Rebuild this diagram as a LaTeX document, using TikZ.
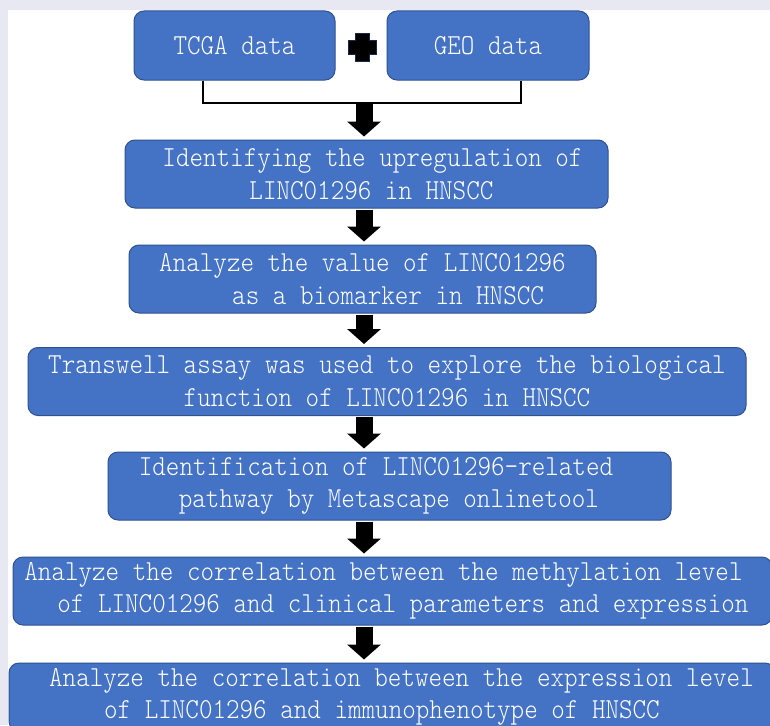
\documentclass[tikz,border=0pt]{standalone}
\usepackage{fontspec}
\newfontfamily\boxfont[Extension=.otf,FakeStretch=0.89]{lmmonolt10-regular}
\usetikzlibrary{arrows.meta}
\newcommand\gapx[1]{\makebox[#1pt]{}}
\definecolor{boxblue}{HTML}{4472C4}
\definecolor{boxedge}{HTML}{2F528F}
\definecolor{lav}{HTML}{E8E8F2}
\begin{document}
\begin{tikzpicture}[x=1pt,y=-1pt,
  stepbox/.style={draw=boxedge, line width=1pt, fill=boxblue, rounded corners=10pt,
    text=white, font=\boxfont\fontsize{29}{32.5}\selectfont, inner sep=0pt, align=left},
  blk/.style={line width=17pt, -{Triangle[width=33pt,length=15pt]}, black,
    shorten <=1pt, shorten >=3pt},
  brk/.style={line width=2pt, black}]
\useasboundingbox (0,0) rectangle (770,725);
\clip (0,0) rectangle (770,725);
\fill[lav] (0,0) rectangle (770,725);
\fill[white] (8,10.5) rectangle (770,725);

\node[stepbox, minimum width=201pt, minimum height=69pt] (tcga) at (234.5,45.5) {TCGA data};
\node[stepbox, minimum width=202pt, minimum height=69pt] (geo) at (488,45.5) {GEO data};
\filldraw[fill=black, draw=boxedge!50!black, line width=0.8pt]
  (355,33.5) -- (369,33.5) -- (369,40.5) -- (376,40.5) -- (376,54.5) -- (369,54.5)
  -- (369,61.5) -- (355,61.5) -- (355,54.5) -- (348,54.5) -- (348,40.5) -- (355,40.5) -- cycle;

\node[stepbox, minimum width=483pt, minimum height=68pt] (b1) at (366.5,174)
  {\gapx{12}Identifying the upregulation of\\\gapx{99}LINC01296 in HNSCC};
\node[stepbox, minimum width=467pt, minimum height=68pt] (b2) at (362.5,279)
  {Analyze the value of LINC01296\\\gapx{73}as a biomarker in HNSCC};
\node[stepbox, align=center, minimum width=718pt, minimum height=68pt] (b3) at (387,381.5)
  {Transwell assay was used to explore the biological\\function of LINC01296 in HNSCC};
\node[stepbox, minimum width=563pt, minimum height=68pt] (b4) at (389.5,486)
  {Identification of LINC01296-related\gapx{27}\\\gapx{40}pathway by Metascape onlinetool};
\node[stepbox, minimum width=759pt, minimum height=68pt] (b5) at (392.5,591)
  {Analyze the correlation between the methylation level\gapx{18}\\\gapx{33}of LINC01296 and clinical parameters and expression};
\node[stepbox, minimum width=766pt, minimum height=68pt] (b6) at (392,697)
  {\gapx{19}Analyze the correlation between the expression level\\\gapx{74}of LINC01296 and immunophenotype of HNSCC};

\draw[brk] ([xshift=-31.5pt]tcga.south) -- ++(0,22) -| ([xshift=33pt]geo.south);
\coordinate (brkM) at (364,102);
\coordinate (ax) at (364,0);

\draw[blk] (brkM) -- (b1.north -| ax);
\draw[blk] (b1.south -| ax) -- (b2.north -| ax);
\draw[blk] (b2.south -| ax) -- (b3.north -| ax);
\draw[blk] (b3.south -| ax) -- (b4.north -| ax);
\draw[blk] (b4.south -| ax) -- (b5.north -| ax);
\draw[blk] (b5.south -| ax) -- (b6.north -| ax);
\end{tikzpicture}
\end{document}
